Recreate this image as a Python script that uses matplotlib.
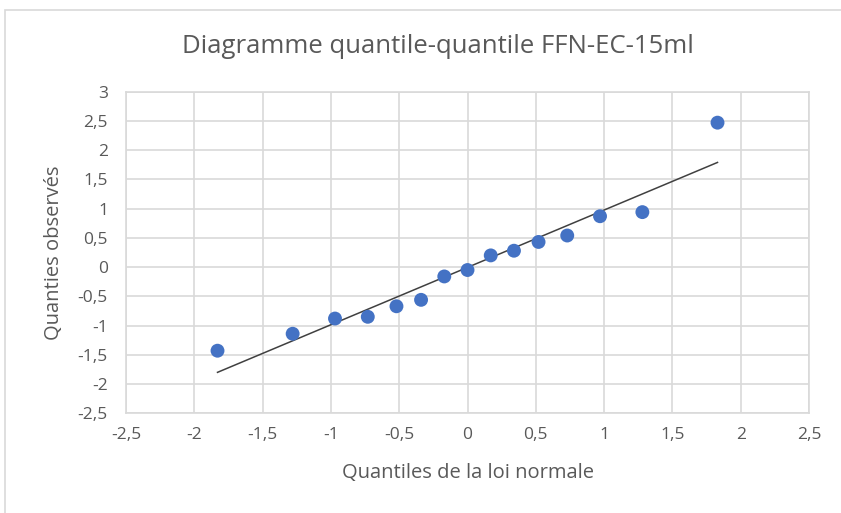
import matplotlib.pyplot as plt
from matplotlib.patches import Rectangle

# Data
theo_q = [-1.83, -1.28, -0.97, -0.73, -0.52, -0.34, -0.17, 0.0,
          0.17, 0.34, 0.52, 0.73, 0.97, 1.28, 1.83]
obs_q = [-1.43, -1.14, -0.88, -0.85, -0.67, -0.56, -0.16, -0.05,
         0.20, 0.28, 0.43, 0.54, 0.87, 0.94, 2.47]
line_x = [-1.83, 1.83]
line_y = [-1.80, 1.79]
ticks = [-2.5, -2, -1.5, -1, -0.5, 0, 0.5, 1, 1.5, 2, 2.5, 3]

def fmt(v):
    s = ('%g' % v).replace('.', ',')
    return s

plt.rcParams['font.family'] = ['Open Sans', 'DejaVu Sans']
txt = '#595959'
grid = '#d9d9d9'

fig = plt.figure(figsize=(8.41, 5.13), dpi=100)
ax = fig.add_axes([0.1498, 0.1944, 0.962 - 0.1498, 0.8213 - 0.1944])

# chart area border (partly cropped in the reference)
fig.patches.append(Rectangle((5 / 841, -0.1), 1.1, (513 - 10) / 513 + 0.1,
                             transform=fig.transFigure, fill=False,
                             edgecolor='#d9d9d9', linewidth=1.2))

ax.plot(line_x, line_y, color='#404040', linewidth=1.1, zorder=2)
ax.scatter(theo_q, obs_q, s=100, color='#4472C4', edgecolors='none', zorder=3)

ax.set_xlim(-2.5, 2.5)
ax.set_ylim(-2.5, 3)
xt = [t for t in ticks if t <= 2.5]
ax.set_xticks(xt)
ax.set_xticklabels([fmt(t) for t in xt])
ax.set_yticks(ticks)
ax.set_yticklabels([fmt(t) for t in ticks])
ax.tick_params(length=0, labelsize=12.5, colors=txt)
ax.tick_params(axis='x', pad=10)
ax.tick_params(axis='y', pad=13)
ax.grid(True, color=grid, linewidth=1.2)
ax.set_axisbelow(True)
for sp in ax.spines.values():
    sp.set_color(grid)
    sp.set_linewidth(1.2)

fig.text(438 / 841, 1 - 47 / 513, 'Diagramme quantile-quantile FFN-EC-15ml',
         fontsize=18.5, color=txt, ha='center', va='center')
ax.set_xlabel('Quantiles de la loi normale', fontsize=14.5, color=txt, labelpad=14)
ax.set_ylabel('Quanties observés', fontsize=14.5, color=txt, labelpad=10)

fig.savefig('out.png', dpi=100)
